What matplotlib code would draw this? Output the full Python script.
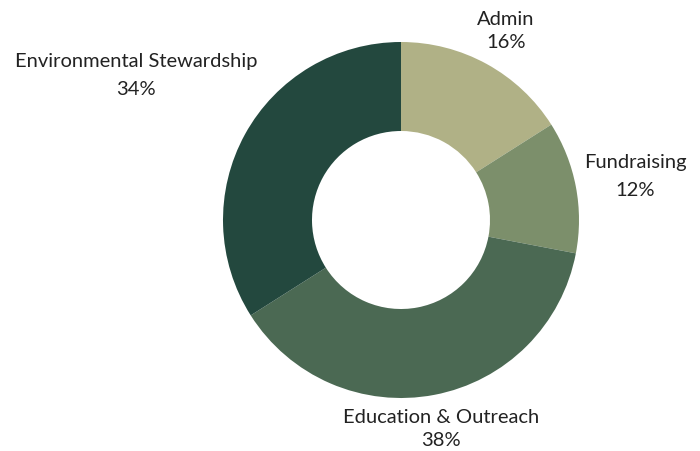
import numpy as np
import matplotlib.pyplot as plt

categories = ["Admin", "Fundraising", "Education & Outreach", "Environmental Stewardship"]
shares = [16, 12, 38, 34]
colors = ["#b0b186", "#7c8f6b", "#4b6953", "#23483e"]

# how far out (in radii) each label block sits along its wedge's mid-angle
label_dist = [1.22, 1.34, 1.19, 1.70]
line_gap = [1.4, 1.8, 1.4, 1.8]

fig = plt.figure(figsize=(7, 4.52), dpi=100)
ax = fig.add_axes([0, 0, 1, 1])

wedges, _ = ax.pie(shares, colors=colors, startangle=90, counterclock=False,
                   radius=1, wedgeprops=dict(width=0.5, linewidth=0))

total = sum(shares)
start = 90
for name, val, d, ls in zip(categories, shares, label_dist, line_gap):
    mid = np.deg2rad(start - val / total * 180)
    start -= val / total * 360
    x, y = d * np.cos(mid), d * np.sin(mid)
    ax.text(x, y, f"{name}\n{val}%", ha="center", va="center",
            fontsize=14.5, family="Lato", color="#222222", linespacing=ls)

ax.set_xlim(-401 / 178, 299 / 178)
ax.set_ylim(-(452 - 221) / 178, 221 / 178)
ax.set_aspect("equal")
ax.axis("off")

fig.savefig("out.png", dpi=100)
